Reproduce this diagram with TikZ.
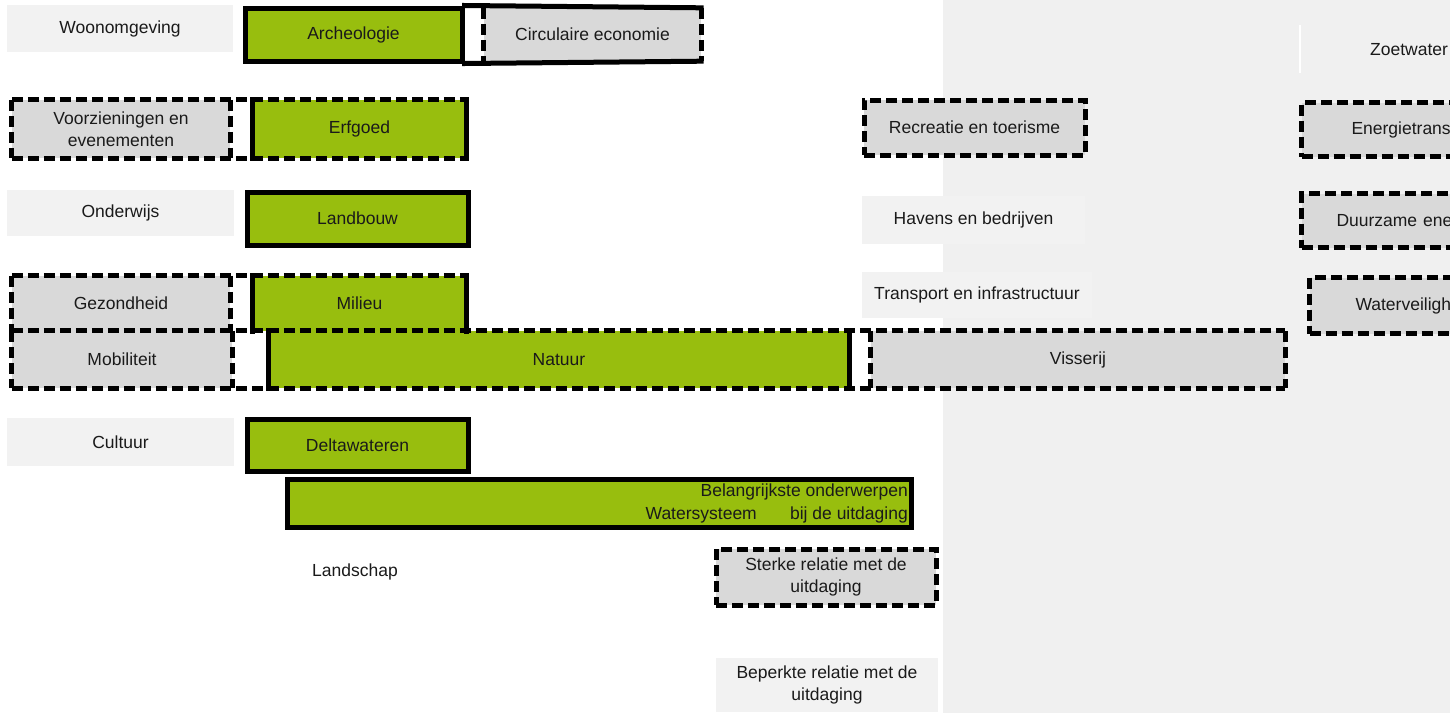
\documentclass[tikz,border=0pt]{standalone}
\usepackage{fontspec}
\setmainfont{Liberation Sans}
\definecolor{kgreen}{RGB}{152,190,14}
\definecolor{kgray}{RGB}{217,217,217}
\definecolor{klight}{RGB}{242,242,242}
\definecolor{kbg}{RGB}{240,240,240}
\definecolor{ktext}{RGB}{26,26,26}
\tikzset{
  lbl/.style={font=\fontsize{17.5}{22.5}\selectfont, text=ktext, inner sep=0pt, align=center},
  greenbox/.style={lbl, rectangle, fill=kgreen, draw=black, line width=5pt},
  graybox/.style={lbl, rectangle, fill=kgray, draw=black, line width=5pt, dash pattern=on 11pt off 5pt},
  lightbox/.style={lbl, rectangle, fill=klight},
  grayfill/.style={lbl, rectangle, fill=kgray},
  greenfill/.style={lbl, rectangle, fill=kgreen},
  solidedge/.style={draw=black, line width=5pt, line cap=rect},
  dashedge/.style={draw=black, line width=5pt, dash pattern=on 11pt off 5pt},
}
\begin{document}
\begin{tikzpicture}[x=1pt,y=-1pt]
\useasboundingbox (0,0) rectangle (1450,713);
\clip (0,0) rectangle (1450,713);
\fill[white] (0,0) rectangle (1450,713);
\fill[kbg] (943,0) rectangle (1450,713);

% row 1
\node[lightbox, minimum width=226pt, minimum height=47pt] (woon) at (120,28.5) {Woonomgeving};
\node[grayfill, minimum width=217pt, minimum height=53pt] (circ) at (592.5,34.5) {Circulaire economie};
\node[greenbox, minimum width=217pt, minimum height=53pt] (arch) at (353.5,34.5) {Archeologie};
\draw[dashedge] (circ.north west) -- (circ.south west) (circ.north east) -- (circ.south east);
\draw[solidedge] (arch.north east) -- (circ.north east) (arch.south east) -- (circ.south east);

% row 2
\node[grayfill, minimum width=218pt, minimum height=58pt] (voorz) at (121,129) {Voorzieningen en\\evenementen};
\node[greenfill, minimum width=213pt, minimum height=58pt] (erf) at (359.5,129) {Erfgoed};
\draw[dashedge] (voorz.north west) -- (erf.north east) (voorz.south west) -- (erf.south east)
  (voorz.north west) -- (voorz.south west) (voorz.north east) -- (voorz.south east);
\draw[solidedge] (erf.north west) -- (erf.south west) (erf.north east) -- (erf.south east);

\node[graybox, minimum width=221pt, minimum height=55pt] (recr) at (974.5,127.5) {Recreatie en toerisme};

% row 3
\node[lightbox, minimum width=227pt, minimum height=46pt] (onder) at (120.5,213) {Onderwijs};
\node[greenbox, minimum width=221pt, minimum height=53pt] (land) at (357.5,218.5) {Landbouw};
\node[lightbox, minimum width=223pt, minimum height=48pt] (havens) at (973.5,220) {Havens en bedrijven};

% row 4
\node[grayfill, minimum width=218pt, minimum height=55pt] (gez) at (121,303.5) {Gezondheid};
\node[greenfill, minimum width=213pt, minimum height=55pt] (mil) at (359.5,303.5) {Milieu};
\node[lightbox, minimum width=230pt, minimum height=46pt] (transp) at (977,295) {Transport en infrastructuur};

% row 5
\node[grayfill, minimum width=220pt, minimum height=57pt] (mob) at (122,359.5) {Mobiliteit};
\node[greenfill, minimum width=580pt, minimum height=57pt] (nat) at (559,359.5) {Natuur};
\node[grayfill, minimum width=414pt, minimum height=57pt] (viss) at (1078,359.5) {Visserij};

\draw[dashedge] (gez.north west) -- (mil.north east)
  (gez.north west) -- (gez.south west) (gez.north east) -- (gez.south east);
\draw[solidedge] (mil.north west) -- (mil.south west) (mil.north east) -- (mil.south east);
\draw[dashedge] (mob.north west) -- (viss.north east) (mob.south west) -- (viss.south east)
  (mob.north west) -- (mob.south west) (mob.north east) -- (mob.south east)
  (viss.north west) -- (viss.south west) (viss.north east) -- (viss.south east);
\draw[solidedge] (nat.north west) -- (nat.south west) (nat.north east) -- (nat.south east);

% lower
\node[lightbox, minimum width=227pt, minimum height=48pt] (cult) at (120.5,442) {Cultuur};
\node[greenbox, minimum width=624pt, minimum height=48pt] (water) at (599,503) {};
\node[greenbox, minimum width=221pt, minimum height=52pt] (delta) at (357.5,445) {Deltawateren};
\node[lbl, anchor=east] (waterlbl) at (757,515) {Watersysteem};
\node[lbl, anchor=east, align=right] (legend1) at (908,503.5) {Belangrijkste onderwerpen\\bij de uitdaging};

\node[lbl] (landschap) at (355,572) {Landschap};
\node[graybox, minimum width=220pt, minimum height=56pt] (sterk) at (826,577) {Sterke relatie met de\\uitdaging};
\node[lightbox, minimum width=222pt, minimum height=54pt] (beperk) at (827,685) {Beperkte relatie met de\\uitdaging};

% right column (cut off)
\node[lbl, rectangle, fill=kbg, anchor=north west, minimum height=48pt, text width=160pt, align=left, inner xsep=70pt] (zoet) at (1300,25) {Zoetwater};
\draw[white, line width=2pt] (zoet.north west) -- (zoet.south west);
\node[graybox, anchor=north west, minimum height=54pt, text width=200pt, align=left, inner xsep=50pt] (energ) at (1299,100) {Energietrans};
\node[graybox, anchor=north west, minimum height=54pt, text width=200pt, align=left, inner xsep=35pt] (duurz) at (1299,191) {Duurzame ene};
\node[graybox, anchor=north west, minimum height=56pt, text width=200pt, align=left, inner xsep=46pt] (wveil) at (1307,275) {Waterveiligh};
\end{tikzpicture}
\end{document}
